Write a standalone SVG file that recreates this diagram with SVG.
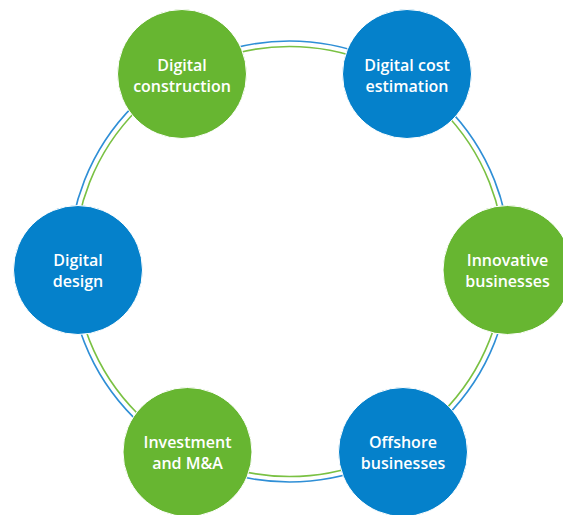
<svg xmlns="http://www.w3.org/2000/svg" width="563" height="515" viewBox="0 0 563 515">
<style>
.ring{fill:none;stroke-width:1.6}
.g{fill:#67b631}
.b{fill:#0581cb}
.node circle{stroke:#ffffff;stroke-width:1}
.t{font-family:"Open Sans","Liberation Sans",sans-serif;font-size:16px;font-weight:600;fill:#ffffff;text-anchor:middle}
</style>
<rect width="563" height="515" fill="#ffffff"/>
<g id="connectors">
<circle class="ring" cx="289.5" cy="261.5" r="220.5" stroke="#2f8fd6"/>
<circle class="ring" cx="289.5" cy="261.5" r="215" stroke="#7ac143"/>
</g>
<g id="n-digital-construction" class="node">
<circle class="g" cx="182" cy="74" r="64.5"/>
<text class="t" x="182" y="71">Digital</text>
<text class="t" x="182" y="92">construction</text>
</g>
<g id="n-digital-cost-estimation" class="node">
<circle class="b" cx="407" cy="74" r="64.5"/>
<text class="t" x="407" y="71">Digital cost</text>
<text class="t" x="407" y="92">estimation</text>
</g>
<g id="n-innovative-businesses" class="node">
<circle class="g" cx="507.5" cy="270" r="64.5"/>
<text class="t" x="507.5" y="266">Innovative</text>
<text class="t" x="507.5" y="287">businesses</text>
</g>
<g id="n-offshore-businesses" class="node">
<circle class="b" cx="403" cy="452" r="64.5"/>
<text class="t" x="403" y="448">Offshore</text>
<text class="t" x="403" y="469">businesses</text>
</g>
<g id="n-investment" class="node">
<circle class="g" cx="187.5" cy="452" r="64.5"/>
<text class="t" x="187.5" y="448">Investment</text>
<text class="t" x="187.5" y="469">and M&amp;A</text>
</g>
<g id="n-digital-design" class="node">
<circle class="b" cx="78" cy="270" r="64.5"/>
<text class="t" x="78" y="266">Digital</text>
<text class="t" x="78" y="287">design</text>
</g>
</svg>
